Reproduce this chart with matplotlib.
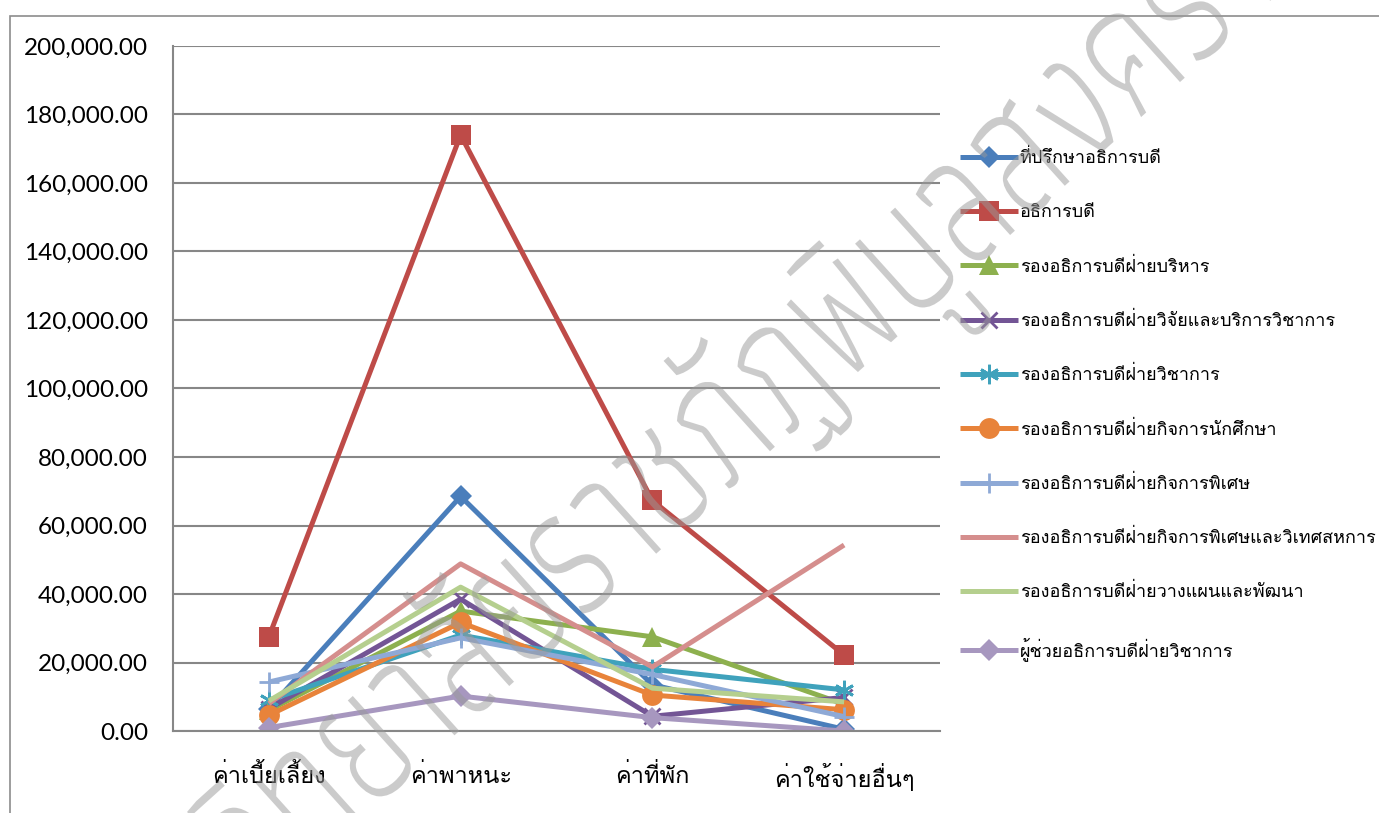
import numpy as np
import matplotlib
matplotlib.use("Agg")
import matplotlib.pyplot as plt
from matplotlib import font_manager
from matplotlib.font_manager import FontProperties
from matplotlib.ft2font import FT2Font
from matplotlib.patches import Rectangle, PathPatch
from matplotlib.textpath import TextPath
from matplotlib.transforms import Affine2D

# fonts that have Thai glyphs
def thai_fonts():
    found = []
    for f in font_manager.fontManager.ttflist:
        try:
            cmap = FT2Font(f.fname).get_charmap()
        except Exception:
            continue
        if 0x0E01 in cmap and 0x0E3F in cmap:
            found.append(f)
    return found

def _w(f):
    w = f.weight
    if isinstance(w, str):
        w = {'thin': 100, 'extralight': 200, 'light': 300, 'normal': 400,
             'regular': 400, 'medium': 500}.get(w.lower(), 400)
    return w

tfonts = thai_fonts()
thai = tfonts[0].name if tfonts else None
plt.rcParams['font.family'] = ([thai] if thai else []) + ['DejaVu Sans']

wm_font = min(tfonts, key=lambda f: abs(_w(f) - 300)) if tfonts else None
wm_prop = FontProperties(fname=wm_font.fname) if wm_font else FontProperties()

# data
categories = ['ค่าเบี้ยเลี้ยง', 'ค่าพาหนะ', 'ค่าที่พัก', 'ค่าใช้จ่ายอื่นๆ']
series_names = [
    'ที่ปรึกษาอธิการบดี',
    'อธิการบดี',
    'รองอธิการบดีฝ่ายบริหาร',
    'รองอธิการบดีฝ่ายวิจัยและบริการวิชาการ',
    'รองอธิการบดีฝ่ายวิชาการ',
    'รองอธิการบดีฝ่ายกิจการนักศึกษา',
    'รองอธิการบดีฝ่ายกิจการพิเศษ',
    'รองอธิการบดีฝ่ายกิจการพิเศษและวิเทศสหการ',
    'รองอธิการบดีฝ่ายวางแผนและพัฒนา',
    'ผู้ช่วยอธิการบดีฝ่ายวิชาการ',
]
advisor = [6500, 68500, 13500, 500]
president = [27500, 174000, 67300, 22200]
vp_admin = [6000, 35000, 27500, 7800]
vp_research = [6500, 38500, 4300, 9800]
vp_academic = [9000, 28000, 18000, 12000]
vp_student = [4600, 31700, 10500, 6200]
vp_special = [14300, 27200, 16500, 4200]
vp_special_intl = [8000, 48800, 18700, 54300]
vp_planning = [8800, 42000, 12500, 8500]
asst_academic = [1000, 10200, 3900, 0]
watermark = 'มหาวิทยาลัยราชภัฏพิบูลสงคราม'

values = [advisor, president, vp_admin, vp_research, vp_academic,
          vp_student, vp_special, vp_special_intl, vp_planning, asst_academic]
colors = ['#4A7EBB', '#BE4B48', '#8DB04E', '#735595', '#3FA2BC',
          '#E8833A', '#8EA9D6', '#D58E8D', '#B5CF8E', '#A797BF']
markers = ['D', 's', '^', 'x', (6, 2, 0), 'o', '+', None, None, 'D']
msizes = [11, 15, 14, 12, 14, 15, 15, 0, 0, 11]

fig = plt.figure(figsize=(13.79, 8.13), dpi=100)
ax = fig.add_axes([173/1379, 1-731/813, (940-173)/1379, (731-46)/813])

x = np.arange(len(categories))
for name, vals, c, m, ms in zip(series_names, values, colors, markers, msizes):
    ax.plot(x, vals, color=c, lw=3.6, marker=m, markersize=ms,
            markeredgewidth=2 if m in ('x', '+', (6, 2, 0)) else 0,
            markeredgecolor=c, label=name, solid_capstyle='butt')

ax.set_xlim(-0.5, 3.5)
ax.set_ylim(0, 200000)
ax.set_yticks(np.arange(0, 200001, 20000))
ax.set_yticklabels([f'{v:,.2f}' for v in np.arange(0, 200001, 20000)],
                   fontsize=17.5, family=['Lato', 'DejaVu Sans'])
ax.set_xticks(x)
ax.set_xticklabels(categories, fontsize=17)
ax.tick_params(axis='both', length=0)
ax.tick_params(axis='y', pad=18)
ax.tick_params(axis='x', pad=24)
ax.grid(axis='y', color='#878787', lw=1.5)
ax.set_axisbelow(True)
for s in ['top', 'right']:
    ax.spines[s].set_visible(False)
ax.spines['left'].set_color('#878787')
ax.spines['bottom'].set_color('#878787')
ax.spines['left'].set_linewidth(1.5)
ax.spines['bottom'].set_linewidth(1.5)

fig.legend(loc='upper left', bbox_to_anchor=(953/1379, 1-142/813),
           frameon=False, fontsize=13, handlelength=3.2, handletextpad=0.1,
           labelspacing=2.0, borderaxespad=0)

# outer chart border
fig.patches.append(Rectangle((10/1379, -0.1), 1.2, 1-16/813+0.1,
                             transform=fig.transFigure, fill=False,
                             edgecolor='#8c8c8c', lw=1.2))

# watermark: condensed, rotated text drawn as a path (pixel coords)
tp = TextPath((0, 0), watermark, size=200, prop=wm_prop)
ext = tp.get_extents()
sx = 1640 / ext.width
wm_tr = (Affine2D().translate(-(ext.x0 + ext.x1) / 2, -(ext.y0 + ext.y1) / 2)
         .scale(sx, 0.95).rotate_deg(42).translate(695, 813 - 462))
fig.add_artist(PathPatch(tp, transform=wm_tr, facecolor='#999999',
                         edgecolor='none', alpha=0.5, zorder=10))

fig.savefig('out.png', dpi=100)
